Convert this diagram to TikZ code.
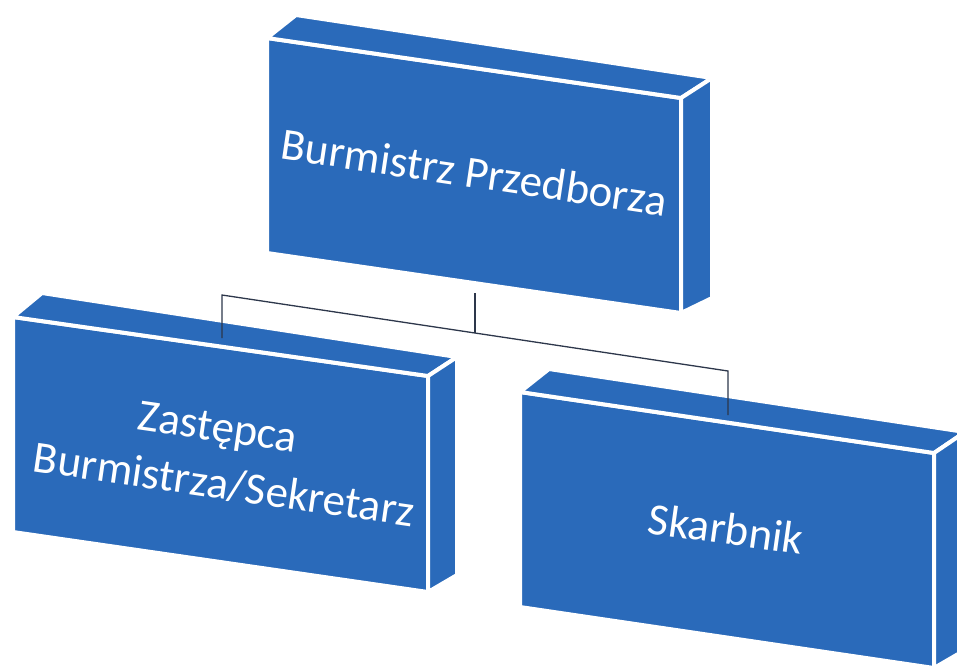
\documentclass[tikz,border=0pt]{standalone}
\usepackage{fontspec}
\setmainfont{Carlito}
\definecolor{boxblue}{RGB}{42,106,186}
\definecolor{linecol}{RGB}{45,55,75}
\begin{document}
\begin{tikzpicture}[x=1pt,y=-1pt,
  face/.style={fill=boxblue, draw=white, line width=4pt, line join=miter},
  lbl/.style={text=white, font=\fontsize{45}{56}\selectfont, inner sep=0pt, anchor=base},
  conn/.style={draw=linecol, line width=1.3pt}]
\clip (0,0) rectangle (957,665);
% top block
\coordinate (tA) at (267,38);  \coordinate (tB) at (681,98);
\coordinate (tC) at (681,313); \coordinate (tD) at (267,253);
\coordinate (tE) at (296,15);  \coordinate (tF) at (712,78);
\coordinate (tG) at (712,298);
\path[face] (tA) -- (tB) -- (tC) -- (tD) -- cycle;
\path[face] (tA) -- (tE) -- (tF) -- (tB) -- cycle;
\path[face] (tB) -- (tF) -- (tG) -- (tC) -- cycle;
% left block
\coordinate (lA) at (13,317);  \coordinate (lB) at (428,376);
\coordinate (lC) at (428,592); \coordinate (lD) at (13,532);
\coordinate (lE) at (42,293);  \coordinate (lF) at (457,357);
\coordinate (lG) at (457,575);
\path[face] (lA) -- (lB) -- (lC) -- (lD) -- cycle;
\path[face] (lA) -- (lE) -- (lF) -- (lB) -- cycle;
\path[face] (lB) -- (lF) -- (lG) -- (lC) -- cycle;
% right block
\coordinate (rA) at (520,392);  \coordinate (rB) at (934,453);
\coordinate (rC) at (934,668);  \coordinate (rD) at (520,607);
\coordinate (rE) at (549,369);  \coordinate (rF) at (965,432);
\coordinate (rG) at (965,650);
\path[face] (rA) -- (rB) -- (rC) -- (rD) -- cycle;
\path[face] (rA) -- (rE) -- (rF) -- (rB) -- cycle;
\path[face] (rB) -- (rF) -- (rG) -- (rC) -- cycle;
% labels
\node[lbl, rotate=-8.5] (t1) at (472,187.5) {Burmistrz Przedborza};
\node[lbl, rotate=-8.3] (t2a) at (216,441) {Zastępca};
\node[lbl, rotate=-8.3] (t2b) at (222,499) {Burmistrza/Sekretarz};
\node[lbl, rotate=-8.0] (t3) at (724,544) {Skarbnik};
% connectors
\coordinate (pL) at (222,338); \coordinate (jL) at (222,295);
\coordinate (pM) at (475,293); \coordinate (jM) at (475,333);
\coordinate (jR) at (728,371); \coordinate (pR) at (728,415);
\draw[conn] (pL) -- (jL) -- (jR) -- (pR);
\draw[conn] (pM) -- (jM);
\end{tikzpicture}
\end{document}
